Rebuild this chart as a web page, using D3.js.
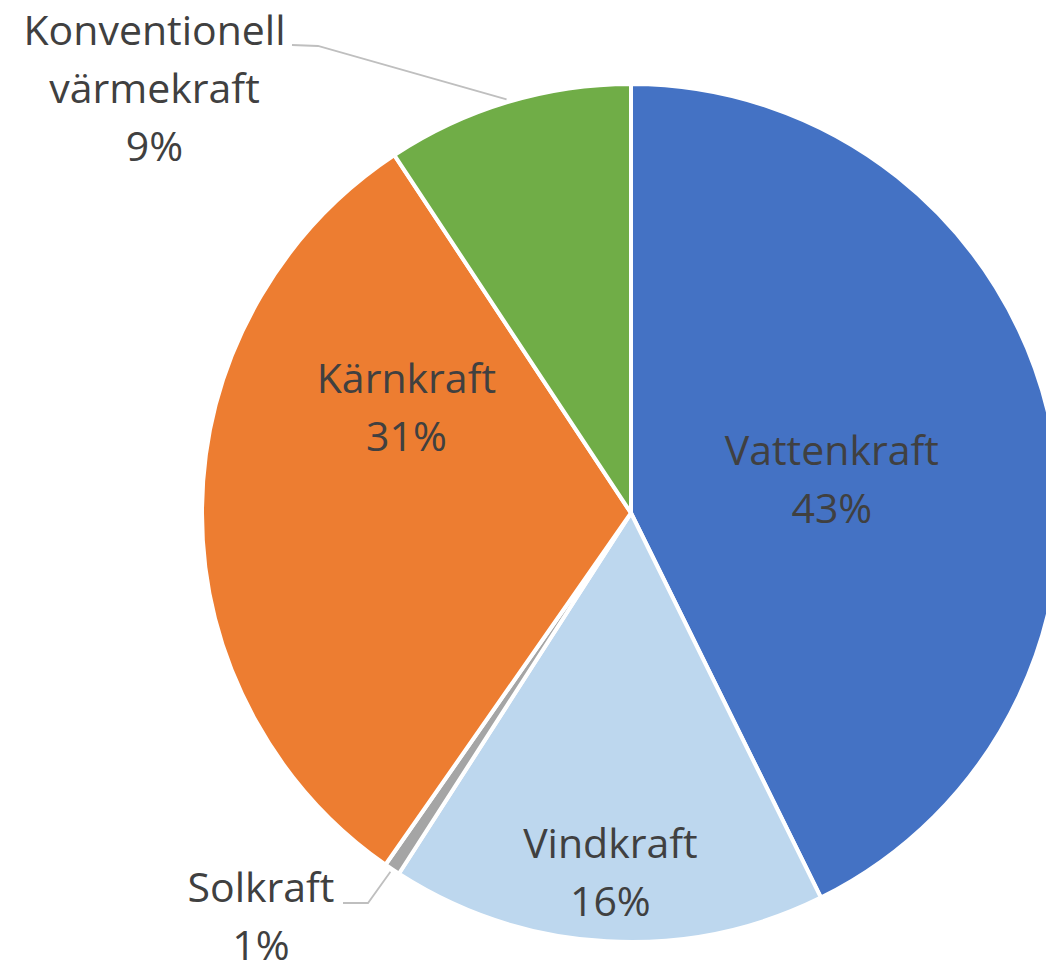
<!DOCTYPE html>
<html>
<head>
<meta charset="utf-8">
<script src="https://cdn.jsdelivr.net/npm/d3@7"></script>
<style>
  html, body { margin: 0; padding: 0; background: #fff; }
  svg { display: block; }
</style>
</head>
<body>
<svg id="chart" width="1046" height="964"></svg>
<script>
// ---- data ----
const categories = ["Vattenkraft", "Vindkraft", "Solkraft", "Kärnkraft", "Konventionell värmekraft"];
const labelLines = [["Vattenkraft"], ["Vindkraft"], ["Solkraft"], ["Kärnkraft"], ["Konventionell", "värmekraft"]];
const shares = [42.7, 16.4, 0.6, 31.0, 9.3];
const colors = ["#4472C4", "#BDD7EE", "#A5A5A5", "#ED7D31", "#70AD47"];

// ---- layout (not data) ----
const W = 1046, H = 964;
const cx = 631, cy = 513, R = 431;
const lineGap = 58;
// offset of label's first baseline from the slice centroid at 0.6R
const labelOffset = [[-51, 11], [-6, 87], [-226, 174], [34, -117], [-402, -220]];
const outside = [false, false, true, false, true];
// leader: horizontal stub from text end, then to slice outer mid point
const leaderStart = [null, null, [343, 903], null, [292, 45]];
const leaderElbow = [null, null, [368, 903], null, [318, 46]];

const svg = d3.select("#chart");
const g = svg.append("g").attr("transform", `translate(${cx},${cy})`);

const total = d3.sum(shares);
const pie = d3.pie().sort(null).value(d => d).startAngle(0).endAngle(2 * Math.PI);
const arcs = pie(shares);
const arc = d3.arc().innerRadius(0).outerRadius(R - 2);
const labelArc = d3.arc().innerRadius(R * 0.6).outerRadius(R * 0.6);
const edgeArc = d3.arc().innerRadius(R + 1).outerRadius(R + 1);

g.selectAll("path.slice")
  .data(arcs)
  .join("path")
  .attr("class", "slice")
  .attr("d", arc)
  .attr("fill", (d, i) => colors[i])
  .attr("stroke", "#fff")
  .attr("stroke-width", 4)
  .attr("stroke-linejoin", "round");

// leader lines
arcs.forEach((d, i) => {
  if (!outside[i]) return;
  const e = edgeArc.centroid(d);
  const pts = [leaderStart[i], leaderElbow[i], [cx + e[0], cy + e[1]]];
  svg.append("polyline")
    .attr("points", pts.map(p => p.join(",")).join(" "))
    .attr("fill", "none")
    .attr("stroke", "#BFBFBF")
    .attr("stroke-width", 1.8);
});

// labels
const fmt = v => Math.round(v / total * 100) + "%";
arcs.forEach((d, i) => {
  const c = labelArc.centroid(d);
  const x = cx + c[0] + labelOffset[i][0];
  const y = cy + c[1] + labelOffset[i][1];
  const lines = labelLines[i].concat([fmt(d.value)]);
  const t = svg.append("text")
    .attr("x", x).attr("y", y)
    .attr("text-anchor", "middle")
    .attr("font-family", "'Open Sans', sans-serif")
    .attr("font-size", 41)
    .attr("fill", "#404040");
  lines.forEach((s, k) => {
    t.append("tspan").attr("x", x).attr("y", y + k * lineGap).text(s);
  });
});
</script>
</body>
</html>
